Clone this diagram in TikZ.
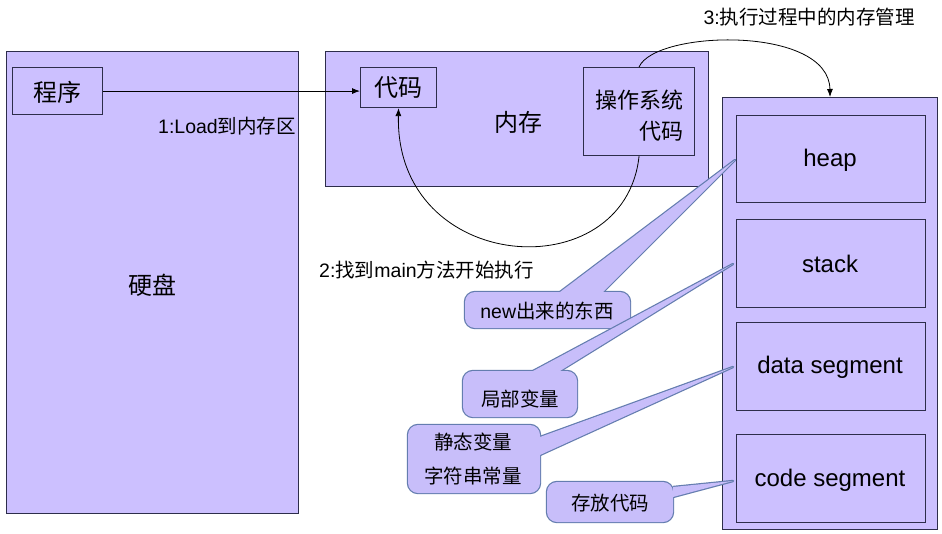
\documentclass[tikz,border=0pt]{standalone}
\usepackage{fontspec}
\setmainfont{Liberation Sans}
\newfontfamily\cjk{Noto Sans CJK SC}
\usetikzlibrary{arrows.meta}
\definecolor{boxfill}{RGB}{204,192,255}
\definecolor{boxline}{RGB}{45,45,75}
\definecolor{callfill}{RGB}{200,190,250}
\definecolor{callline}{RGB}{100,125,175}
\begin{document}
\begin{tikzpicture}[x=1pt,y=-1pt,
  membox/.style={draw=boxline, fill=boxfill, line width=1.1pt, anchor=north west, inner sep=0pt},
  lbl/.style={inner sep=0pt, font=\fontsize{19.5}{23}\selectfont},
  bigtxt/.style={inner sep=0pt, font=\cjk\fontsize{24}{28}\selectfont},
  ostxt/.style={inner sep=0pt, font=\cjk\fontsize{22}{26}\selectfont, anchor=east},
  segtxt/.style={inner sep=0pt, font=\fontsize{24}{28}\selectfont},
  calltxt/.style={inner sep=0pt, font=\fontsize{19.5}{23}\selectfont},
  conn/.style={draw=black, line width=0.8pt, -{Latex[length=8pt,width=6pt]}},
  callrim/.style={draw=callline, line width=2.4pt, line join=round},
  callbody/.style={fill=callfill},
]
\useasboundingbox (0,0) rectangle (942,533);
\fill[white] (0,0) rectangle (942,533);

% disk
\node[membox, minimum width=292pt, minimum height=462pt] (disk) at (6,51) {};
\node[bigtxt] (disklbl) at (152,285) {硬盘};
\node[membox, minimum width=90pt, minimum height=47pt] (prog) at (12,67) {};
\node[bigtxt] (proglbl) at (57,92) {程序};

% memory
\node[membox, minimum width=383pt, minimum height=135pt] (mem) at (325,51) {};
\node[bigtxt] (memlbl) at (518,122) {内存};
\node[membox, minimum width=76pt, minimum height=40pt] (code) at (360,67) {};
\node[bigtxt] (codelbl) at (398,88) {代码};
\node[membox, minimum width=111pt, minimum height=88pt] (os) at (583,67) {};
\node[ostxt] (os1) at (684,100) {操作系统};
\node[ostxt] (os2) at (684,131) {代码};

% right memory layout
\node[membox, minimum width=215pt, minimum height=432pt] (rbox) at (722,97) {};
\node[membox, minimum width=189pt, minimum height=87pt] (heap) at (736,115) {};
\node[segtxt] (heaplbl) at (830,160) {heap};
\node[membox, minimum width=189pt, minimum height=88pt] (stack) at (736,219) {};
\node[segtxt] (stacklbl) at (830,264) {stack};
\node[membox, minimum width=189pt, minimum height=88pt] (data) at (736,322) {};
\node[segtxt] (datalbl) at (830,367) {data segment};
\node[membox, minimum width=189pt, minimum height=88pt] (cseg) at (736,434) {};
\node[segtxt] (cseglbl) at (830,480) {code segment};

% connectors
\draw[conn] (prog.east) -- (prog.east -| code.west);
\draw[conn] (os.south) .. controls (625,290) and (395,275) .. (code.south);
\draw[conn] (os.north) .. controls (655,30) and (829,25) .. (rbox.north);

% labels
\node[lbl, anchor=east] (l1) at (296,126) {1:Load{\cjk 到内存区}};
\node[lbl, anchor=west] (l2) at (319,270) {2:{\cjk 找到}main{\cjk 方法开始执行}};
\node[lbl, anchor=east] (l3) at (915,17) {3:{\cjk 执行过程中的内存管理}};

% callout: heap
\draw[callrim] (560,292) -- (735,160) -- (603,292);
\draw[callrim, rounded corners=10pt] (465,292) rectangle (630,328);
\fill[callbody] (560,292) -- (735,160) -- (603,292) -- cycle;
\fill[callbody, rounded corners=10pt] (465,292) rectangle (630,328);
\node[calltxt] (c1) at (547,311) {new{\cjk 出来的东西}};

% callout: stack
\draw[callrim] (533,371) -- (733,264) -- (560,371);
\draw[callrim, rounded corners=10pt] (463,371) rectangle (577,417);
\fill[callbody] (533,371) -- (733,264) -- (560,371) -- cycle;
\fill[callbody, rounded corners=10pt] (463,371) rectangle (577,417);
\node[calltxt, font=\cjk\fontsize{19.5}{23}\selectfont] (c2) at (520,399) {局部变量};

% callout: data segment
\draw[callrim] (540,437) -- (733,367) -- (540,455);
\draw[callrim, rounded corners=10pt] (408,425) rectangle (540,493);
\fill[callbody] (540,437) -- (733,367) -- (540,455) -- cycle;
\fill[callbody, rounded corners=10pt] (408,425) rectangle (540,493);
\node[calltxt, font=\cjk\fontsize{19.5}{23}\selectfont] (c3a) at (473,442) {静态变量};
\node[calltxt, font=\cjk\fontsize{19.5}{23}\selectfont] (c3b) at (473,476) {字符串常量};

% callout: code segment
\draw[callrim] (673,487) -- (733,481) -- (673,497);
\draw[callrim, rounded corners=10pt] (547,482) rectangle (673,522);
\fill[callbody] (673,487) -- (733,481) -- (673,497) -- cycle;
\fill[callbody, rounded corners=10pt] (547,482) rectangle (673,522);
\node[calltxt, font=\cjk\fontsize{19.5}{23}\selectfont] (c4) at (610,503) {存放代码};
\end{tikzpicture}
\end{document}
